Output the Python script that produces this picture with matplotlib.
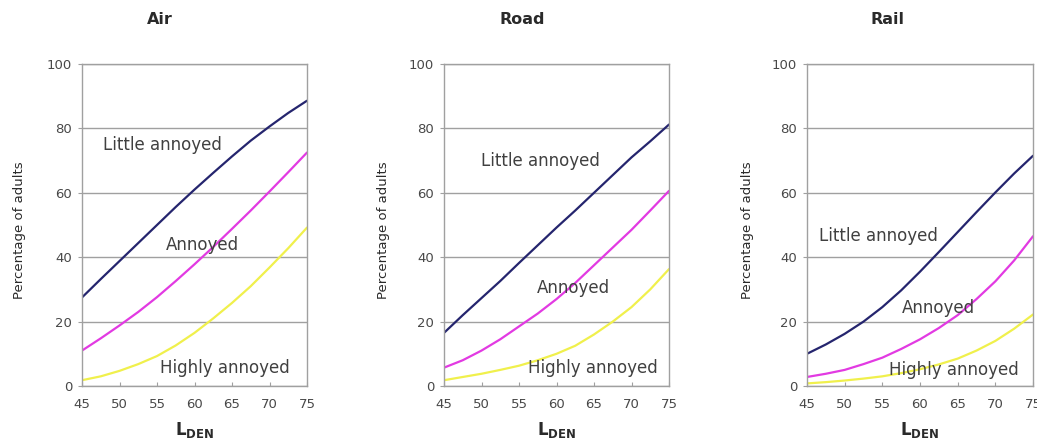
import matplotlib
matplotlib.use("Agg")
import matplotlib.pyplot as plt

plt.rcParams['font.family'] = ['DejaVu Sans']
plt.rcParams['mathtext.fontset'] = 'custom'
plt.rcParams['mathtext.bf'] = 'DejaVu Sans:bold'
plt.rcParams['mathtext.rm'] = 'DejaVu Sans'

lden = [45, 47.5, 50, 52.5, 55, 57.5, 60, 62.5, 65, 67.5, 70, 72.5, 75]
xticks = [45, 50, 55, 60, 65, 70, 75]
yticks = [0, 20, 40, 60, 80, 100]

panels = ["Air", "Road", "Rail"]

little_air = [27.5, 33.2, 38.8, 44.4, 50, 55.6, 61, 66.2, 71.3, 76.2, 80.6, 84.8, 88.6]
annoyed_air = [11, 14.8, 18.8, 23, 27.6, 32.6, 37.8, 43.2, 48.8, 54.5, 60.4, 66.4, 72.5]
highly_air = [1.8, 3, 4.7, 6.8, 9.3, 12.6, 16.5, 21, 25.8, 31, 36.8, 42.8, 49.2]

little_road = [16.5, 22, 27.3, 32.6, 38.2, 43.7, 49.2, 54.5, 60, 65.5, 71, 76, 81.2]
annoyed_road = [5.7, 8, 11, 14.5, 18.5, 22.5, 27, 32, 37.5, 43, 48.5, 54.5, 60.6]
highly_road = [1.8, 2.8, 3.8, 5, 6.3, 8, 10, 12.5, 16, 20, 24.5, 30, 36.3]

little_rail = [10, 12.9, 16.2, 20, 24.5, 29.7, 35.5, 41.6, 47.8, 54, 60.1, 66, 71.5]
annoyed_rail = [2.8, 3.8, 5, 6.8, 8.8, 11.5, 14.5, 18, 22, 27, 32.5, 39, 46.5]
highly_rail = [0.8, 1.2, 1.7, 2.3, 3, 4, 5.2, 6.7, 8.5, 11, 14, 17.8, 22.2]

series_names = ["Little annoyed", "Annoyed", "Highly annoyed"]
series_colors = ["#25256e", "#e23ae2", "#f0f04c"]

data = {
    "Air": [little_air, annoyed_air, highly_air],
    "Road": [little_road, annoyed_road, highly_road],
    "Rail": [little_rail, annoyed_rail, highly_rail],
}

# label positions (data coords, center)
label_pos = {
    "Air": [(55.7, 74.8), (61.1, 43.8), (64.1, 5.6)],
    "Road": [(57.9, 69.9), (62.2, 30.4), (64.9, 5.6)],
    "Rail": [(54.5, 46.6), (62.4, 24.2), (64.5, 5.0)],
}

W, H = 1037, 442
fig = plt.figure(figsize=(W / 100, H / 100), dpi=100)

lefts = [82, 444, 807]
widths = [225, 225, 226]
title_x = [160, 522, 887]
ylab_x = [20, 383, 747]
ax_top, ax_bot = 64, 386

for i, name in enumerate(panels):
    ax = fig.add_axes([lefts[i] / W, 1 - ax_bot / H, widths[i] / W, (ax_bot - ax_top) / H])
    for vals, col in zip(data[name], series_colors):
        ax.plot(lden, vals, color=col, lw=1.6, solid_capstyle='round', solid_joinstyle='round')
    for (lx, ly), txt in zip(label_pos[name], series_names):
        ax.text(lx, ly, txt, ha='center', va='center', fontsize=12, color='#404040')
    ax.set_xlim(45, 75)
    ax.set_ylim(0, 100)
    ax.set_xticks(xticks)
    ax.set_yticks(yticks)
    ax.yaxis.grid(True, color='#a0a0a0', lw=1.0)
    ax.set_axisbelow(True)
    for s in ax.spines.values():
        s.set_color('#a0a0a0')
        s.set_linewidth(1.0)
    ax.tick_params(axis='both', labelsize=9.5, colors='#a0a0a0', labelcolor='#484848',
                   length=3, width=0.8, pad=4)
    ax.tick_params(axis='x', direction='in', pad=9)
    fig.text(title_x[i] / W, 1 - 19 / H, name, ha='center', va='center',
             fontsize=11.5, fontweight='bold', color='#2a2a2a')
    fig.text(ylab_x[i] / W, 1 - 230 / H, "Percentage of adults", rotation=90,
             ha='center', va='center', fontsize=9.5, color='#2a2a2a')
    fig.text((lefts[i] + widths[i] / 2) / W, 1 - 430 / H, r'$\mathbf{L}_{\mathbf{DEN}}$',
             ha='center', va='center', fontsize=12, color='#2a2a2a')

fig.savefig("out.png", dpi=100)
